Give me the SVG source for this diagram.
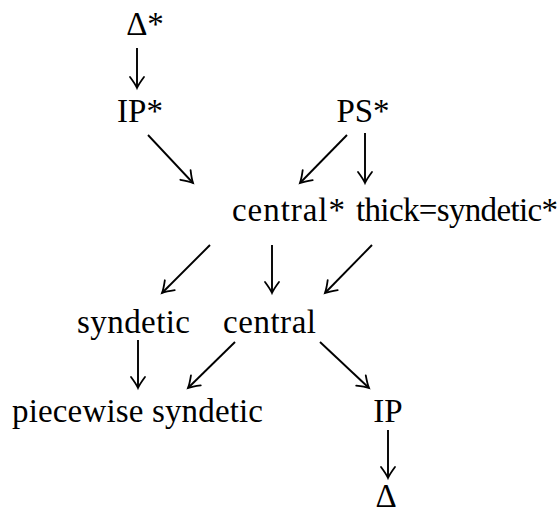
<svg xmlns="http://www.w3.org/2000/svg" width="560" height="527" viewBox="0 0 560 527">
<defs>
<style>
text{font-family:"Liberation Serif","DejaVu Serif",serif;font-size:33px;fill:#000}
.m{text-anchor:middle}
.c line{stroke:#000;stroke-width:1.9;marker-end:url(#ah)}
</style>
<marker id="ah" markerUnits="userSpaceOnUse" viewBox="-14 -9 16 18" markerWidth="16" markerHeight="18" refX="0" refY="0" orient="auto" overflow="visible">
<path d="M-11,-7 Q-4,-1.8 0,0 Q-4,1.8 -11,7" fill="none" stroke="#000" stroke-width="1.8" stroke-linecap="round"/>
</marker>
</defs>
<rect width="560" height="527" fill="#fff"/>
<g id="n_delta_star"><text class="m" x="145" y="35">Δ*</text></g>
<g id="n_ip_star"><text class="m" x="140" y="122">IP*</text></g>
<g id="n_ps_star"><text class="m" x="363" y="122">PS*</text></g>
<g id="n_central_star"><text x="232" y="221" textLength="113" lengthAdjust="spacing">central*</text></g>
<g id="n_thick"><text x="356" y="221" textLength="202" lengthAdjust="spacing">thick=syndetic*</text></g>
<g id="n_syndetic"><text x="77" y="333" textLength="113" lengthAdjust="spacing">syndetic</text></g>
<g id="n_central"><text x="223" y="333" textLength="93" lengthAdjust="spacing">central</text></g>
<g id="n_piecewise"><text x="12" y="422" textLength="251" lengthAdjust="spacing">piecewise syndetic</text></g>
<g id="n_ip"><text class="m" x="388" y="422">IP</text></g>
<g id="n_delta"><text class="m" x="386" y="507">Δ</text></g>
<g class="c" id="connectors">
<line x1="137" y1="48" x2="137" y2="88"/>
<line x1="148" y1="135" x2="193" y2="183"/>
<line x1="347" y1="135" x2="300" y2="183"/>
<line x1="365" y1="133" x2="365" y2="183"/>
<line x1="210" y1="245" x2="162" y2="293"/>
<line x1="272" y1="245" x2="272" y2="293"/>
<line x1="372" y1="245" x2="325" y2="293"/>
<line x1="138" y1="340" x2="138" y2="388"/>
<line x1="235" y1="342" x2="188" y2="388"/>
<line x1="320" y1="342" x2="369" y2="388"/>
<line x1="388" y1="430" x2="388" y2="478"/>
</g>
</svg>
